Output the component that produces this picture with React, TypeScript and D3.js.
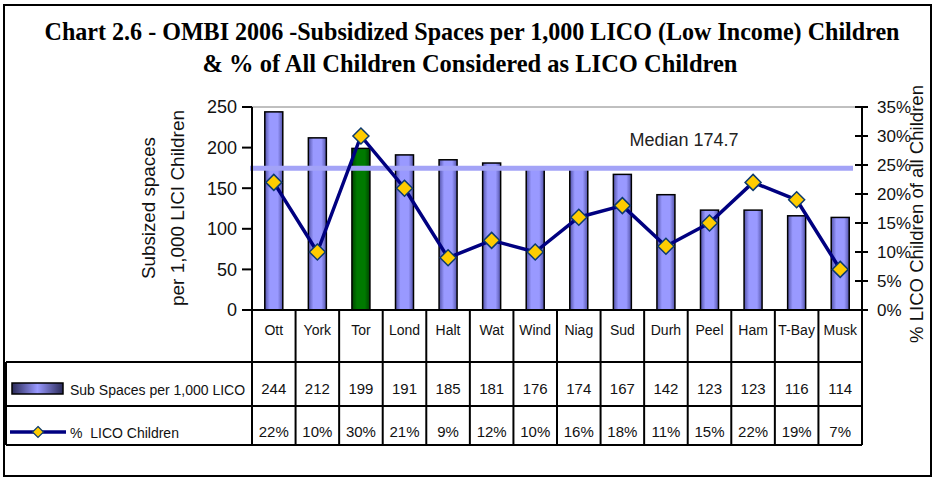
import React from "react";
import * as d3 from "d3";

// Municipalities (column order), subsidized spaces and % LICO children
const categories = ["Ott", "York", "Tor", "Lond", "Halt", "Wat", "Wind", "Niag", "Sud", "Durh", "Peel", "Ham", "T-Bay", "Musk"];
const spaces = [244, 212, 199, 191, 185, 181, 176, 174, 167, 142, 123, 123, 116, 114];
const licoPct = [22, 10, 30, 21, 9, 12, 10, 16, 18, 11, 15, 22, 19, 7];
const highlighted = ["Tor"];
const median = 174.7;
const leftTicks = [0, 50, 100, 150, 200, 250];
const rightTicks = [0, 5, 10, 15, 20, 25, 30, 35];

const W = 935;
const H = 478;
const plotLeft = 252;
const plotRight = 862;
const plotTop = 107;
const plotBottom = 310;
const rowCat = 362;
const rowBar = 406;
const rowLine = 445;
const tableLeft = 6;

const sans = "'Liberation Sans', Arial, sans-serif";
const serif = "'Liberation Serif', 'Times New Roman', serif";

function diamond(cx: number, cy: number, r: number) {
  return `M${cx},${cy - r}L${cx + r},${cy}L${cx},${cy + r}L${cx - r},${cy}Z`;
}

export default function App() {
  const x = d3.scaleBand<string>().domain(categories).range([plotLeft, plotRight]).padding(0);
  const yL = d3.scaleLinear().domain([0, 250]).range([plotBottom, plotTop]);
  const yR = d3.scaleLinear().domain([0, 35]).range([plotBottom, plotTop]);
  const bw = 18;
  const cx = (c: string) => (x(c) as number) + x.bandwidth() / 2;

  const line = d3
    .line<number>()
    .x((_, i) => cx(categories[i]))
    .y((d) => yR(d));

  const boundaries = categories.map((c) => x(c) as number).concat([plotRight]);

  return (
    <svg
      width={W}
      height={H}
      style={{ position: "absolute", left: 0, top: 0, background: "#fff" }}
      fontFamily={sans}
    >
      <defs>
        <linearGradient id="barGrad" x1="0" x2="1" y1="0" y2="0">
          <stop offset="0" stopColor="#5252a8" />
          <stop offset="0.28" stopColor="#9999ff" />
          <stop offset="0.72" stopColor="#9999ff" />
          <stop offset="1" stopColor="#5252a8" />
        </linearGradient>
        <linearGradient id="greenGrad" x1="0" x2="1" y1="0" y2="0">
          <stop offset="0" stopColor="#004400" />
          <stop offset="0.28" stopColor="#007a00" />
          <stop offset="0.72" stopColor="#007a00" />
          <stop offset="1" stopColor="#004400" />
        </linearGradient>
        <linearGradient id="keyGrad" x1="0" x2="1" y1="0" y2="0">
          <stop offset="0" stopColor="#2a2a58" />
          <stop offset="0.5" stopColor="#9999ff" />
          <stop offset="1" stopColor="#2a2a58" />
        </linearGradient>
      </defs>

      {/* outer frame */}
      <rect x={4} y={5} width={927} height={471} fill="#fff" stroke="#000" strokeWidth={2} />

      {/* title */}
      <text x={472} y={40} textAnchor="middle" fontFamily={serif} fontWeight="bold" fontSize={25}
        textLength={855} lengthAdjust="spacingAndGlyphs">
        Chart 2.6 - OMBI 2006 -Subsidized Spaces per 1,000 LICO (Low Income) Children
      </text>
      <text x={470} y={72} textAnchor="middle" fontFamily={serif} fontWeight="bold" fontSize={25}
        textLength={535} lengthAdjust="spacingAndGlyphs">
        & % of All Children Considered as LICO Children
      </text>

      {/* top plot border */}
      <line x1={plotLeft} x2={plotRight} y1={plotTop} y2={plotTop} stroke="#808080" strokeWidth={1} />

      {/* bars */}
      {categories.map((c, i) => (
        <rect
          key={c}
          x={cx(c) - bw / 2}
          y={yL(spaces[i])}
          width={bw}
          height={plotBottom - yL(spaces[i])}
          fill={highlighted.includes(c) ? "url(#greenGrad)" : "url(#barGrad)"}
          stroke="#000"
          strokeWidth={1.5}
        />
      ))}

      {/* median line */}
      <line x1={250} x2={853} y1={yL(median)} y2={yL(median)} stroke="#a3a3f7" strokeWidth={5} />
      <text x={684} y={146} textAnchor="middle" fontSize={18} fill="#222">
        Median {median}
      </text>

      {/* % LICO line */}
      <path d={line(licoPct) || ""} fill="none" stroke="#000080" strokeWidth={3.5} strokeLinejoin="round" />
      {licoPct.map((v, i) => (
        <path key={i} d={diamond(cx(categories[i]), yR(v), 8)} fill="#ffcc00" stroke="#0d3a6e" strokeWidth={1.5} />
      ))}

      {/* left axis */}
      <line x1={plotLeft} x2={plotLeft} y1={plotTop} y2={rowLine} stroke="#000" strokeWidth={2} />
      {leftTicks.map((t) => (
        <g key={t}>
          <line x1={242} x2={plotLeft} y1={yL(t)} y2={yL(t)} stroke="#000" strokeWidth={2} />
          <text x={237} y={yL(t)} dy="0.35em" textAnchor="end" fontSize={18} fill="#111">
            {t}
          </text>
        </g>
      ))}
      <text transform="translate(155,208) rotate(-90)" textAnchor="middle" fontSize={19} fill="#111"
        textLength={142} lengthAdjust="spacingAndGlyphs">
        Subsized spaces
      </text>
      <text transform="translate(184,208) rotate(-90)" textAnchor="middle" fontSize={19} fill="#111"
        textLength={196} lengthAdjust="spacingAndGlyphs">
        per 1,000 LICI Children
      </text>

      {/* right axis */}
      <line x1={plotRight} x2={plotRight} y1={plotTop} y2={rowLine} stroke="#000" strokeWidth={2} />
      {rightTicks.map((t) => (
        <g key={t}>
          <line x1={855} x2={868} y1={yR(t)} y2={yR(t)} stroke="#000" strokeWidth={2} />
          <text x={877} y={yR(t)} dy="0.35em" textAnchor="start" fontSize={17} fill="#111">
            {t}%
          </text>
        </g>
      ))}
      <text transform="translate(923,214) rotate(-90)" textAnchor="middle" fontSize={19} fill="#111"
        textLength={258} lengthAdjust="spacingAndGlyphs">
        % LICO Children of all Children
      </text>

      {/* data table */}
      <line x1={plotLeft} x2={plotRight} y1={plotBottom} y2={plotBottom} stroke="#000" strokeWidth={2} />
      {[rowCat, rowBar, rowLine].map((y) => (
        <line key={y} x1={tableLeft} x2={plotRight} y1={y} y2={y} stroke="#000" strokeWidth={2} />
      ))}
      <line x1={tableLeft} x2={tableLeft} y1={rowCat} y2={rowLine} stroke="#000" strokeWidth={2} />
      {boundaries.map((b, i) => (
        <line key={i} x1={b} x2={b} y1={plotBottom} y2={rowLine} stroke="#000" strokeWidth={2} />
      ))}
      {categories.map((c, i) => (
        <g key={c}>
          <text x={cx(c)} y={335} textAnchor="middle" fontSize={14} fill="#111">
            {c}
          </text>
          <text x={cx(c)} y={394} textAnchor="middle" fontSize={15} fill="#111">
            {spaces[i]}
          </text>
          <text x={cx(c)} y={437} textAnchor="middle" fontSize={15} fill="#111">
            {licoPct[i]}%
          </text>
        </g>
      ))}

      {/* legend keys */}
      <rect x={12} y={383} width={51} height={11} fill="url(#keyGrad)" stroke="#000" strokeWidth={1.5} />
      <text x={70} y={395} fontSize={14} fill="#111">
        Sub Spaces per 1,000 LICO
      </text>
      <line x1={10} x2={66} y1={432} y2={432} stroke="#000080" strokeWidth={3.5} />
      <path d={diamond(38, 432, 5.5)} fill="#ffcc00" stroke="#0d3a6e" strokeWidth={1.2} />
      <text x={70} y={438} fontSize={14} fill="#111" style={{ whiteSpace: "pre" }}>
        {"%  LICO Children"}
      </text>
    </svg>
  );
}
